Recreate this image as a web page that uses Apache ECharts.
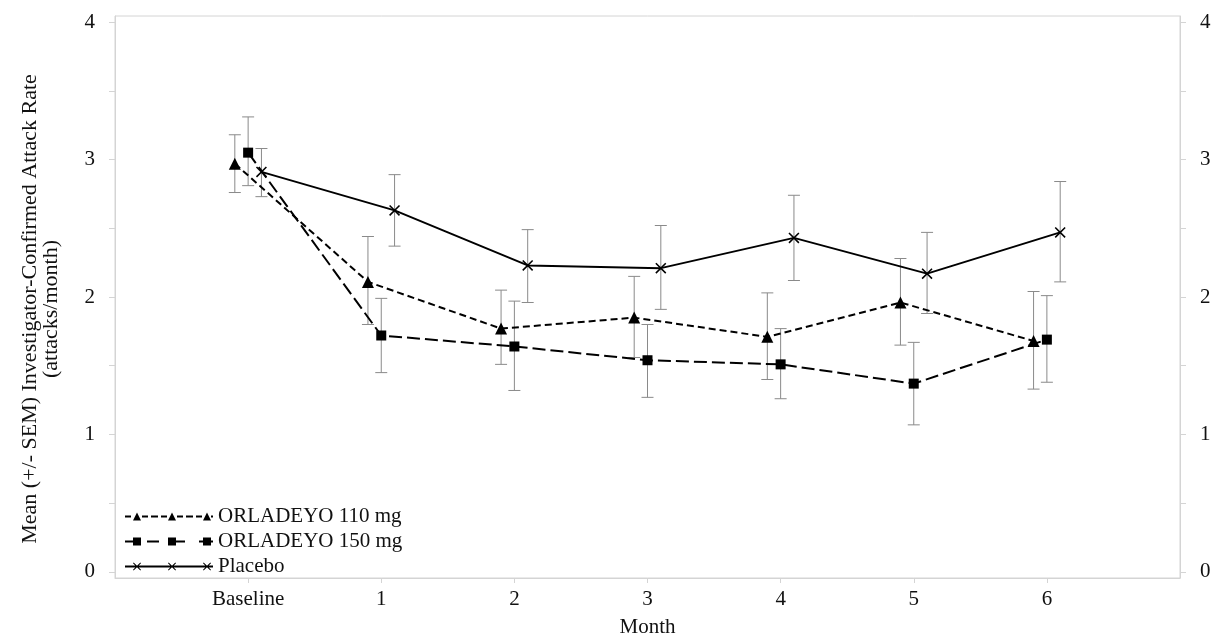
<!DOCTYPE html>
<html>
<head>
<meta charset="utf-8">
<script src="https://cdn.jsdelivr.net/npm/echarts@6/dist/echarts.min.js"></script>
<style>html,body{margin:0;padding:0;background:#fff}#c{width:1212px;height:633px}</style>
</head>
<body>
<div id="c"></div>
<script>
const categories = ['Baseline', '1', '2', '3', '4', '5', '6'];
const yTicks = [0, 1, 2, 3, 4];
const yMinorTicks = [0, 0.5, 1, 1.5, 2, 2.5, 3, 3.5, 4];

const mean110 = [2.97, 2.11, 1.77, 1.85, 1.71, 1.96, 1.68];
const lo110   = [2.76, 1.80, 1.51, 1.56, 1.40, 1.65, 1.33];
const hi110   = [3.18, 2.44, 2.05, 2.15, 2.03, 2.28, 2.04];

const mean150 = [3.05, 1.72, 1.64, 1.54, 1.51, 1.37, 1.69];
const lo150   = [2.81, 1.45, 1.32, 1.27, 1.26, 1.07, 1.38];
const hi150   = [3.31, 1.99, 1.97, 1.80, 1.77, 1.67, 2.01];

const meanPbo = [2.91, 2.63, 2.23, 2.21, 2.43, 2.17, 2.47];
const loPbo   = [2.73, 2.37, 1.96, 1.91, 2.12, 1.88, 2.11];
const hiPbo   = [3.08, 2.89, 2.49, 2.52, 2.74, 2.47, 2.84];

const names = ['ORLADEYO 110 mg', 'ORLADEYO 150 mg', 'Placebo'];
const shift = [-0.1, 0, 0.1];

const FONT = 'Liberation Serif';
const X_SYMBOL = 'path://M0,1 L1,0 L10,9 L9,10 Z M9,0 L10,1 L1,10 L0,9 Z';

// legend icons (88 x 8 box)
function rect(x, y, w, h) { return 'M' + x + ' ' + y + ' h' + w + ' v' + h + ' h' + (-w) + ' Z '; }
function tri(cx) { return 'M' + (cx - 4) + ' 8 L' + cx + ' 0 L' + (cx + 4) + ' 8 Z '; }
function sq(cx) { return rect(cx - 4, 0, 8, 8); }
function ex(cx) {
  return 'M' + (cx - 4) + ' 0.7 L' + (cx - 3.3) + ' 0 L' + (cx + 4) + ' 7.3 L' + (cx + 3.3) + ' 8 Z ' +
         'M' + (cx + 3.3) + ' 0 L' + (cx + 4) + ' 0.7 L' + (cx - 3.3) + ' 8 L' + (cx - 4) + ' 7.3 Z ';
}
const marks = [12, 47, 82];
let icon110 = '';
[[0, 6], [17, 23], [26, 33], [36, 42], [52, 58], [61, 68], [71, 77], [86, 88]].forEach(d => icon110 += rect(d[0], 3.1, d[1] - d[0], 1.8));
marks.forEach(m => icon110 += tri(m));
let icon150 = '';
[[0, 10], [22, 34], [46, 60], [74, 88]].forEach(d => icon150 += rect(d[0], 3.1, d[1] - d[0], 1.8));
marks.forEach(m => icon150 += sq(m));
let iconPbo = rect(0, 3.1, 88, 1.8);
marks.forEach(m => iconPbo += ex(m));

function errSeries(idx, lo, hi) {
  const data = lo.map((v, i) => [i + shift[idx], v, hi[i]]);
  return {
    type: 'custom',
    name: 'err' + idx,
    z: 1,
    silent: true,
    data: data,
    encode: { x: 0, y: [1, 2] },
    renderItem: function (params, api) {
      const x = api.value(0);
      const pLo = api.coord([x, api.value(1)]);
      const pHi = api.coord([x, api.value(2)]);
      const w = 6;
      const st = { stroke: '#8a8a8a', lineWidth: 1 };
      return {
        type: 'group',
        children: [
          { type: 'line', shape: { x1: pLo[0], y1: pLo[1], x2: pHi[0], y2: pHi[1] }, style: st },
          { type: 'line', shape: { x1: pLo[0] - w, y1: pLo[1], x2: pLo[0] + w, y2: pLo[1] }, style: st },
          { type: 'line', shape: { x1: pHi[0] - w, y1: pHi[1], x2: pHi[0] + w, y2: pHi[1] }, style: st }
        ]
      };
    }
  };
}

function lineSeries(idx, mean, symbol, size, dash) {
  return {
    type: 'line',
    name: names[idx],
    z: 3,
    data: mean.map((v, i) => [i + shift[idx], v]),
    symbol: symbol,
    symbolSize: size,
    showSymbol: true,
    lineStyle: { color: '#000', width: 2, type: dash },
    itemStyle: { color: '#000', borderWidth: 0 },
    emphasis: { disabled: true },
    animation: false
  };
}

const yAxisBase = {
  type: 'value',
  min: -0.044,
  max: 4.044,
  splitLine: { show: false },
  axisLine: { show: true, onZero: false, lineStyle: { color: '#d4d4d4' } },
  axisTick: { show: true, customValues: yMinorTicks, length: 6, lineStyle: { color: '#d4d4d4' } },
  axisLabel: { customValues: yTicks, margin: 20, fontFamily: FONT, fontSize: 21, color: '#111' }
};

const chart = echarts.init(document.getElementById('c'));
chart.setOption({
  animation: false,
  backgroundColor: '#fff',
  grid: {
    left: 115, right: 32, top: 16, bottom: 55,
    containLabel: false, outerBoundsMode: 'none',
    show: true, borderColor: '#d4d4d4', borderWidth: 1
  },
  xAxis: {
    type: 'value',
    min: -1,
    max: 7,
    name: 'Month',
    nameLocation: 'middle',
    nameGap: 39,
    nameTextStyle: { fontFamily: FONT, fontSize: 21, color: '#111' },
    splitLine: { show: false },
    axisLine: { show: true, onZero: false, lineStyle: { color: '#d4d4d4' } },
    axisTick: { show: true, customValues: [0, 1, 2, 3, 4, 5, 6], length: 5, lineStyle: { color: '#d4d4d4' } },
    axisLabel: {
      customValues: [0, 1, 2, 3, 4, 5, 6],
      formatter: v => categories[Math.round(v)] || '',
      margin: 11, fontFamily: FONT, fontSize: 21, color: '#111'
    }
  },
  yAxis: [
    Object.assign({}, yAxisBase, {
      position: 'left',
      name: 'Mean (+/- SEM) Investigator-Confirmed Attack Rate\n(attacks/month)',
      nameLocation: 'middle',
      nameGap: 53,
      nameTextStyle: { fontFamily: FONT, fontSize: 22, color: '#111', lineHeight: 21, padding: [0, 24, 0, 0] }
    }),
    Object.assign({}, yAxisBase, { position: 'right' })
  ],
  legend: {
    orient: 'vertical',
    left: 120,
    top: 501,
    itemWidth: 88,
    itemHeight: 8,
    itemGap: 4,
    selectedMode: false,
    textStyle: { fontFamily: FONT, fontSize: 21, lineHeight: 21, color: '#111', padding: [0, 0, 0, 0] },
    itemStyle: { borderWidth: 0 },
    data: [
      { name: names[0], icon: 'path://' + icon110 },
      { name: names[1], icon: 'path://' + icon150 },
      { name: names[2], icon: 'path://' + iconPbo }
    ]
  },
  series: [
    errSeries(0, lo110, hi110),
    errSeries(1, lo150, hi150),
    errSeries(2, loPbo, hiPbo),
    lineSeries(0, mean110, 'triangle', 12, [7, 4]),
    lineSeries(1, mean150, 'rect', 10, [13, 5]),
    lineSeries(2, meanPbo, X_SYMBOL, 11, 'solid')
  ]
});
</script>
</body>
</html>
